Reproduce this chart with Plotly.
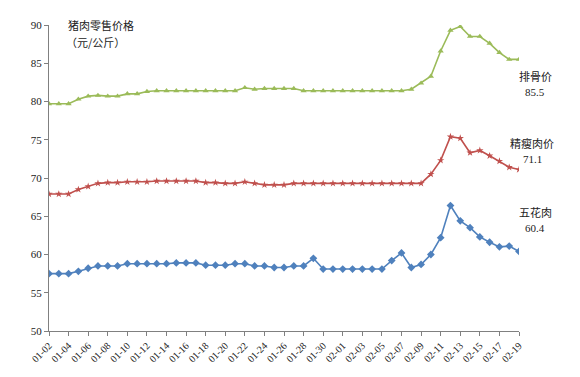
import plotly.graph_objects as go

dates = ([f"01-{d:02d}" for d in range(2, 32)] + [f"02-{d:02d}" for d in range(1, 20)])

paigu = [79.7, 79.7, 79.7, 80.3, 80.7, 80.8, 80.7, 80.7, 81.0, 81.0,
         81.3, 81.4, 81.4, 81.4, 81.4, 81.4, 81.4, 81.4, 81.4, 81.4,
         81.8, 81.6, 81.7, 81.7, 81.7, 81.7, 81.4, 81.4, 81.4, 81.4,
         81.4, 81.4, 81.4, 81.4, 81.4, 81.4, 81.4, 81.6, 82.4, 83.3,
         86.6, 89.3, 89.8, 88.5, 88.5, 87.6, 86.4, 85.5, 85.5]

jingshou = [67.9, 67.9, 67.9, 68.5, 68.9, 69.3, 69.4, 69.4, 69.5, 69.5,
            69.5, 69.6, 69.6, 69.6, 69.6, 69.6, 69.4, 69.4, 69.3, 69.3,
            69.5, 69.3, 69.1, 69.1, 69.1, 69.3, 69.3, 69.3, 69.3, 69.3,
            69.3, 69.3, 69.3, 69.3, 69.3, 69.3, 69.3, 69.3, 69.3, 70.5,
            72.3, 75.4, 75.2, 73.3, 73.6, 72.9, 72.2, 71.4, 71.1]

wuhua = [57.5, 57.5, 57.5, 57.8, 58.2, 58.5, 58.5, 58.5, 58.8, 58.8,
         58.8, 58.8, 58.8, 58.9, 58.9, 58.9, 58.6, 58.6, 58.6, 58.8,
         58.8, 58.5, 58.5, 58.3, 58.3, 58.5, 58.5, 59.5, 58.1, 58.1,
         58.1, 58.1, 58.1, 58.1, 58.1, 59.2, 60.2, 58.3, 58.7, 60.0,
         62.2, 66.4, 64.4, 63.5, 62.3, 61.6, 61.0, 61.1, 60.4]

tick_labels = dates[::2]

serif = "Liberation Serif, Times New Roman, serif"
cjk = "Noto Sans CJK SC"

fig = go.Figure()
fig.add_trace(go.Scatter(x=dates, y=paigu, mode="lines+markers", name="排骨价",
                         line=dict(color="#9BBB59", width=1.6),
                         marker=dict(symbol="triangle-up", size=5.5, color="#9BBB59")))
fig.add_trace(go.Scatter(x=dates, y=jingshou, mode="lines+markers", name="精瘦肉价",
                         line=dict(color="#C0504D", width=1.6),
                         marker=dict(symbol="star", size=5.5, color="#C0504D")))
fig.add_trace(go.Scatter(x=dates, y=wuhua, mode="lines+markers", name="五花肉",
                         line=dict(color="#4F81BD", width=1.6),
                         marker=dict(symbol="diamond", size=6, color="#4F81BD")))

fig.update_layout(
    width=580, height=377,
    margin=dict(l=49, r=61, t=25, b=46),
    paper_bgcolor="white", plot_bgcolor="white",
    showlegend=False,
    font=dict(family=serif, size=10, color="#222"),
    xaxis=dict(type="category", range=[0, 48], showgrid=False, zeroline=False,
               automargin=False,
               showline=True, linecolor="#808080", linewidth=1,
               ticks="outside", ticklen=4, tickcolor="#808080",
               tickvals=tick_labels, ticktext=tick_labels, tickangle=-45,
               tickfont=dict(family=serif, size=10, color="#222")),
    yaxis=dict(range=[50, 90], dtick=5, showgrid=False, zeroline=False,
               automargin=False,
               showline=True, linecolor="#808080", linewidth=1,
               ticks="outside", ticklen=4, tickcolor="#808080",
               tickfont=dict(family=serif, size=11, color="#222")),
)

ann = [
    ("猪肉零售价格", 66, 25, "left"),
    ("（元/公斤）", 64, 42, "left"),
    ("排骨价", 535, 76, "center"),
    ("85.5", 535, 92, "center"),
    ("精瘦肉价", 532, 143, "center"),
    ("71.1", 532, 159, "center"),
    ("五花肉", 535, 212, "center"),
    ("60.4", 535, 228, "center"),
]
for text, px, py, align in ann:
    fig.add_annotation(text=text, xref="paper", yref="paper",
                       x=(px - 49) / 470, y=1 - (py - 25) / 306,
                       xanchor=align, yanchor="middle", showarrow=False,
                       font=dict(family=(serif if text[0].isdigit() else cjk),
                                 size=11, color="#222"))

fig.write_html("out.html", config={"displayModeBar": False},
               post_script="document.body.style.margin='0';document.body.style.overflow='hidden';")
